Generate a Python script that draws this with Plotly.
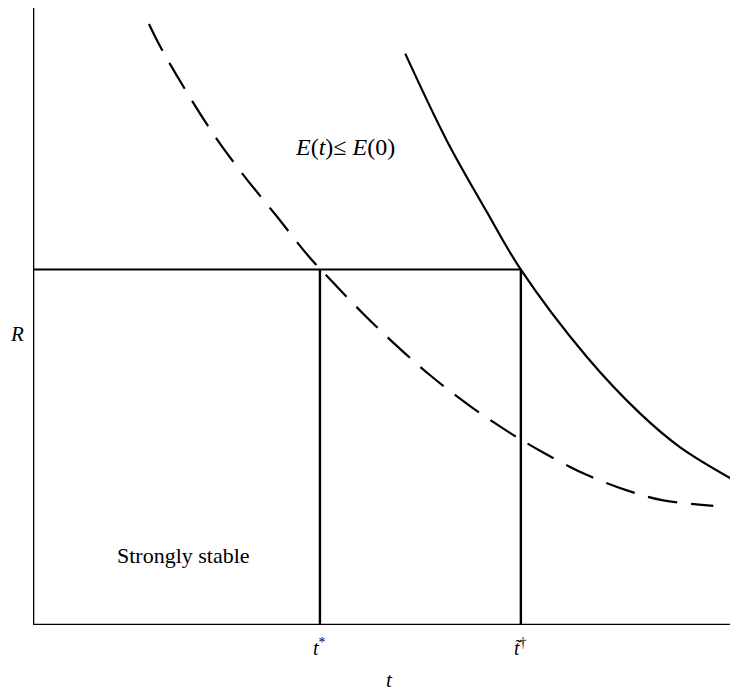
import plotly.graph_objects as go

# Data (abstract units, x: 0..10, y: 0..10)
dashed_t = [1.645, 1.84, 2.51, 2.94, 3.46, 3.90, 4.24, 4.68, 5.06, 5.62, 6.21, 6.77, 7.23, 7.86, 8.51, 8.94, 9.65]
dashed_R = [9.74, 9.30, 8.04, 7.36, 6.62, 5.99, 5.57, 5.05, 4.63, 4.06, 3.54, 3.11, 2.80, 2.43, 2.15, 2.02, 1.93]

solid_t = [5.28, 5.87, 6.42, 6.92, 7.86, 8.61, 9.18, 10.0]
solid_R = [9.26, 7.85, 6.73, 5.76, 4.34, 3.43, 2.88, 2.31]

t_star = 4.07
t_dagger = 6.92
R_level = 5.76

x_range = [0, 10]
y_range = [0, 10]

tick_labels = ["<i>t</i><sup>*</sup>", "<i>t\u0303</i><sup>\u2020</sup>"]
tick_positions = [t_star, t_dagger]

serif = "Liberation Serif"

fig = go.Figure()

fig.add_trace(go.Scatter(
    x=dashed_t, y=dashed_R, mode="lines",
    line=dict(color="black", width=2.2, dash="30px,14px", shape="spline", smoothing=1.0),
    showlegend=False, hoverinfo="skip"))

fig.add_trace(go.Scatter(
    x=solid_t, y=solid_R, mode="lines",
    line=dict(color="black", width=2.2, shape="spline", smoothing=1.0),
    showlegend=False, hoverinfo="skip"))

# boundary lines of the strongly stable region and t-dagger
fig.add_trace(go.Scatter(
    x=[x_range[0], t_dagger], y=[R_level, R_level], mode="lines",
    line=dict(color="black", width=2), showlegend=False, hoverinfo="skip"))
for tv in tick_positions:
    fig.add_trace(go.Scatter(
        x=[tv, tv], y=[y_range[0], R_level], mode="lines",
        line=dict(color="black", width=2.4), showlegend=False, hoverinfo="skip"))

# axes drawn as lines
fig.add_shape(type="line", x0=x_range[0], x1=x_range[0], y0=y_range[0], y1=y_range[1],
              line=dict(color="black", width=2.6), xref="x", yref="y")
fig.add_shape(type="line", x0=x_range[0], x1=x_range[1], y0=y_range[0], y1=y_range[0],
              line=dict(color="black", width=2.6), xref="x", yref="y")

# tick labels (below the axis, placed in paper coordinates vertically)
for pos, lab in zip(tick_positions, tick_labels):
    fig.add_annotation(x=pos, xref="x", y=-0.036, yref="paper", text=lab, showarrow=False,
                       xanchor="center", yanchor="middle",
                       font=dict(family=serif, size=20, color="black"))

fig.add_annotation(x=5.06, xref="x", y=-0.089, yref="paper", text="<i>t</i>", showarrow=False,
                   xanchor="center", yanchor="middle",
                   font=dict(family=serif, size=21, color="black"))
fig.add_annotation(x=-0.0227, xref="paper", y=4.72, yref="y", text="<i>R</i>", showarrow=False,
                   xanchor="center", yanchor="middle",
                   font=dict(family=serif, size=21, color="black"))
fig.add_annotation(x=4.43, y=7.75, text="<i>E</i>(<i>t</i>)\u2264 <i>E</i>(0)", showarrow=False,
                   xanchor="center", yanchor="middle",
                   font=dict(family=serif, size=24, color="black"))
fig.add_annotation(x=2.13, y=1.12, text="Strongly stable", showarrow=False,
                   xanchor="center", yanchor="middle",
                   font=dict(family=serif, size=22, color="black"))

fig.update_xaxes(range=x_range, visible=False, fixedrange=True)
fig.update_yaxes(range=y_range, visible=False, fixedrange=True)

fig.update_layout(
    width=730, height=683,
    margin=dict(l=25, r=0, t=0, b=66),
    plot_bgcolor="white", paper_bgcolor="white",
    showlegend=False,
)

fig.write_html("out.html")
